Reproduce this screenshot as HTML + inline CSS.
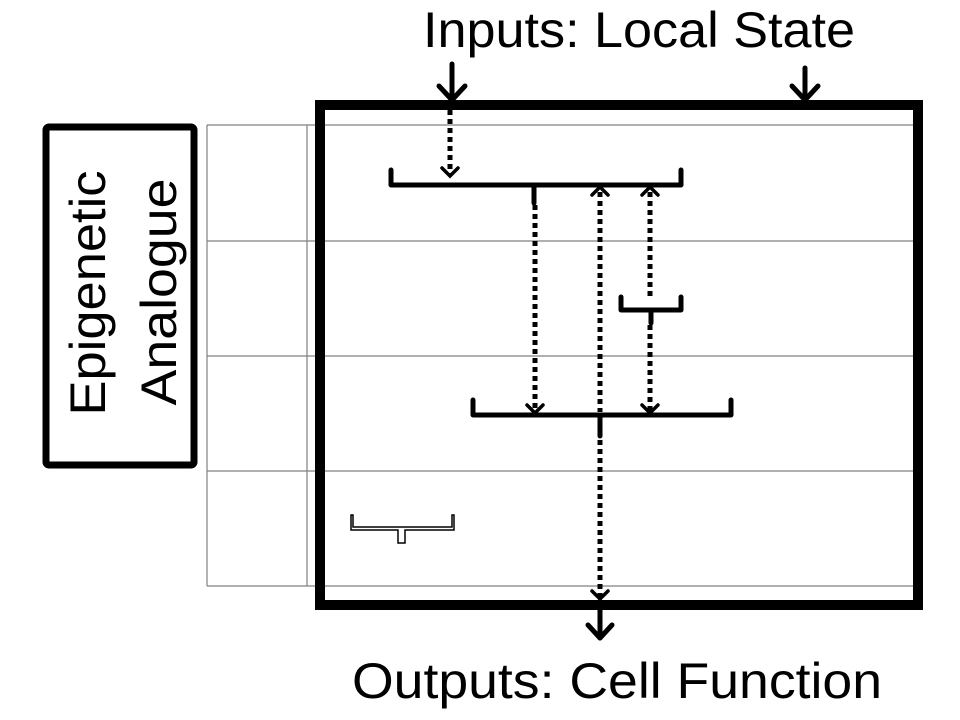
<!DOCTYPE html>
<html><head><meta charset="utf-8"><style>html,body{margin:0;padding:0;background:#fff}svg{display:block}</style></head>
<body>
<svg width="960" height="720" viewBox="0 0 960 720" xmlns="http://www.w3.org/2000/svg" font-family="Liberation Sans, sans-serif">
<g stroke="#808080" stroke-width="1.2" fill="none">
<line x1="207" y1="125" x2="915" y2="125"/>
<line x1="207" y1="241" x2="915" y2="241"/>
<line x1="207" y1="356" x2="915" y2="356"/>
<line x1="207" y1="471" x2="915" y2="471"/>
<line x1="207" y1="586" x2="915" y2="586"/>
<line x1="207" y1="125" x2="207" y2="586"/>
<line x1="307" y1="125" x2="307" y2="586"/>
</g>
<rect x="320" y="105" width="598" height="500" fill="none" stroke="#000" stroke-width="10"/>
<rect x="46" y="127" width="148" height="338" rx="3" fill="none" stroke="#000" stroke-width="7"/>
<text transform="translate(105,293) rotate(-90)" text-anchor="middle" font-size="50" textLength="245" lengthAdjust="spacingAndGlyphs">Epigenetic</text>
<text transform="translate(176,292) rotate(-90)" text-anchor="middle" font-size="50" textLength="227" lengthAdjust="spacingAndGlyphs">Analogue</text>
<text x="639" y="47" text-anchor="middle" font-size="50" textLength="432" lengthAdjust="spacingAndGlyphs">Inputs: Local State</text>
<text x="617" y="698" text-anchor="middle" font-size="50" textLength="530" lengthAdjust="spacingAndGlyphs">Outputs: Cell Function</text>
<g stroke="#000" stroke-width="5" fill="none" stroke-linecap="round" stroke-linejoin="round">
<line x1="452" y1="64" x2="452" y2="100"/><polyline points="439,86 452,100 465,86"/>
<line x1="805" y1="68" x2="805" y2="100"/><polyline points="792,86 805,100 818,86"/>
<polyline points="391,170 391,185 681,185 681,170"/>
<line x1="534" y1="185" x2="534" y2="203"/>
<polyline points="621,297 621,310 681,310 681,297"/>
<line x1="651" y1="310" x2="651" y2="323"/>
<polyline points="473,400 473,415 731,415 731,400"/>
<line x1="600" y1="415" x2="600" y2="436"/>
<line x1="600" y1="608" x2="600" y2="638"/><polyline points="588,625 600,638 612,625"/>
</g>
<g stroke="#000" stroke-width="5" fill="none" stroke-dasharray="5,4">
<line x1="450" y1="110" x2="450" y2="175"/>
<line x1="535" y1="205" x2="535" y2="411"/>
<line x1="600" y1="192" x2="600" y2="412"/>
<line x1="650" y1="192" x2="650" y2="300"/>
<line x1="650" y1="325" x2="650" y2="412"/>
<line x1="600" y1="440" x2="600" y2="598"/>
</g>
<g stroke="#000" stroke-width="3.5" fill="none" stroke-linecap="round">
<polyline points="442,168 450,176 458,168"/>
<polyline points="592,195 600,187 608,195"/>
<polyline points="642,195 650,187 658,195"/>
<polyline points="527,405 535,413 543,405"/>
<polyline points="642,405 650,413 658,405"/>
<polyline points="592,591 600,599 608,591"/>
</g>
<g stroke="#000" stroke-width="1.5" fill="#fff">
<path d="M351,515 V530 H398 V543 H405 V530 H454 V515 H452 V527 H353 V515 Z"/>
</g>
</svg>
</body></html>
